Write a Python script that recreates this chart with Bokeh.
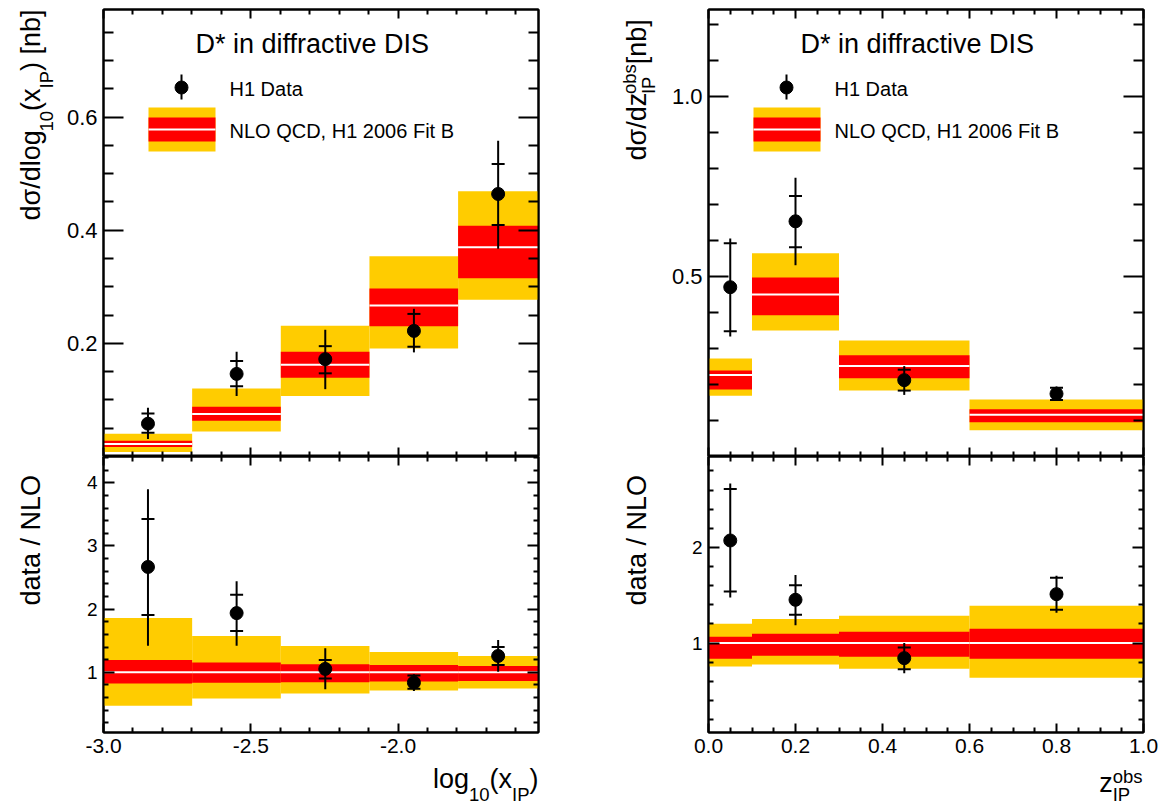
import math
from bokeh.plotting import figure
from bokeh.models import FixedTicker, LinearAxis, Label, Range1d
from bokeh.layouts import row, column
from bokeh.embed import file_html
from bokeh.resources import INLINE

# ---------------- data: left column, log10(x_IP) ----------------
xip_edges = [-3.0, -2.699, -2.398, -2.097, -1.796, -1.523]
xip_centres = [-2.849, -2.548, -2.247, -1.946, -1.660]
xip_data = [0.058, 0.146, 0.172, 0.222, 0.464]
xip_stat_lo = [0.042, 0.124, 0.147, 0.194, 0.409]
xip_stat_hi = [0.076, 0.169, 0.195, 0.252, 0.517]
xip_tot_lo = [0.031, 0.107, 0.119, 0.184, 0.367]
xip_tot_hi = [0.086, 0.185, 0.224, 0.261, 0.558]
xip_nlo = [0.022, 0.075, 0.162, 0.267, 0.370]
xip_nlo_red_lo = [0.017, 0.063, 0.139, 0.230, 0.315]
xip_nlo_red_hi = [0.028, 0.088, 0.185, 0.297, 0.408]
xip_nlo_yel_lo = [0.008, 0.044, 0.107, 0.191, 0.277]
xip_nlo_yel_hi = [0.040, 0.120, 0.231, 0.354, 0.469]

xip_ratio = [2.668, 1.937, 1.053, 0.837, 1.258]
xip_ratio_stat_lo = [1.905, 1.653, 0.900, 0.740, 1.116]
xip_ratio_stat_hi = [3.426, 2.226, 1.195, 0.950, 1.400]
xip_ratio_tot_lo = [1.420, 1.420, 0.730, 0.705, 1.010]
xip_ratio_tot_hi = [3.900, 2.442, 1.379, 0.968, 1.511]
xip_ratio_nlo = [1.0, 1.0, 1.0, 1.0, 1.0]
xip_ratio_red_lo = [0.821, 0.832, 0.842, 0.853, 0.863]
xip_ratio_red_hi = [1.195, 1.153, 1.126, 1.116, 1.100]
xip_ratio_yel_lo = [0.468, 0.584, 0.663, 0.711, 0.742]
xip_ratio_yel_hi = [1.858, 1.574, 1.416, 1.321, 1.258]

# ---------------- data: right column, z_IP^obs ----------------
z_edges = [0.0, 0.1, 0.3, 0.6, 1.0]
z_centres = [0.05, 0.2, 0.45, 0.8]
z_data = [0.470, 0.653, 0.212, 0.174]
z_stat_lo = [0.348, 0.581, 0.183, 0.157]
z_stat_hi = [0.592, 0.723, 0.241, 0.191]
z_tot_lo = [0.333, 0.531, 0.171, 0.154]
z_tot_hi = [0.605, 0.774, 0.251, 0.194]
z_nlo = [0.226, 0.450, 0.251, 0.116]
z_nlo_red_lo = [0.186, 0.392, 0.217, 0.095]
z_nlo_red_hi = [0.239, 0.497, 0.281, 0.131]
z_nlo_yel_lo = [0.169, 0.350, 0.183, 0.073]
z_nlo_yel_hi = [0.272, 0.564, 0.322, 0.158]

z_ratio = [2.073, 1.453, 0.843, 1.512]
z_ratio_stat_lo = [1.540, 1.296, 0.728, 1.348]
z_ratio_stat_hi = [2.610, 1.606, 0.955, 1.683]
z_ratio_tot_lo = [1.477, 1.188, 0.686, 1.317]
z_ratio_tot_hi = [2.670, 1.711, 1.000, 1.704]
z_ratio_nlo = [1.0, 1.0, 1.0, 1.0]
z_ratio_red_lo = [0.836, 0.868, 0.857, 0.836]
z_ratio_red_hi = [1.066, 1.098, 1.118, 1.150]
z_ratio_yel_lo = [0.756, 0.777, 0.732, 0.638]
z_ratio_yel_hi = [1.202, 1.251, 1.286, 1.390]

# ---------------- ticks ----------------
xip_ticks = [-3.0, -2.5, -2.0]
xip_tick_labels = ["-3.0", "-2.5", "-2.0"]
z_ticks = [0.0, 0.2, 0.4, 0.6, 0.8, 1.0]
z_tick_labels = ["0.0", "0.2", "0.4", "0.6", "0.8", "1.0"]
xs_top_ticks = [0.2, 0.4, 0.6]
xs_top_tick_labels = ["0.2", "0.4", "0.6"]
zs_top_ticks = [0.5, 1.0]
zs_top_tick_labels = ["0.5", "1.0"]
xip_ratio_ticks = [1.0, 2.0, 3.0, 4.0]
xip_ratio_tick_labels = ["1", "2", "3", "4"]
z_ratio_ticks = [1.0, 2.0]
z_ratio_tick_labels = ["1", "2"]

# ---------------- style / layout (page pixels) ----------------
FONT = "Liberation Sans"
YELLOW = "#FFCC00"
RED = "#FF0000"
FW = 435
A_W = 62            # left title strip
B_BL, B_BR = 41, 77  # left column borders
C_W = 49            # right title strip
D_BL, D_BR = 44, 19  # right column borders
TOP_BT, TOP_FH = 9, 447
BOT_FH, BOT_BB = 276, 32
TOTAL_H = 807
MID = 0.3465        # baseline-to-centre distance in em (Liberation Sans)

XR_L = (-3.0, -1.523)
XR_R = (0.0, 1.0)
YR_TL = (0.0, 0.79)
YR_TR = (0.0, 1.241)
YR_BL = (0.046, 4.417)
YR_BR = (0.0655, 2.951)

W = {' ': 278, '(': 333, ')': 333, '[': 278, ']': 278, '/': 278, '*': 389, ',': 278,
     'a': 556, 'b': 556, 'c': 500, 'd': 556, 'e': 556, 'f': 278, 'g': 556, 'i': 222,
     'l': 222, 'n': 556, 'o': 556, 's': 500, 't': 278, 'v': 500, 'x': 500, 'z': 500,
     'D': 722, 'I': 278, 'L': 556, 'N': 722, 'O': 778, 'P': 667, 'Q': 778, 'C': 722,
     'H': 722, 'F': 611, 'B': 667, 'S': 667, 'σ': 570}
for _d in "0123456789":
    W[_d] = 556


def tw(text, size):
    return sum(W.get(c, 556) for c in text) * size / 1000.0


def mrange(a, b, step, skip):
    out = []
    n = int(round((b - a) / step))
    for i in range(n + 1):
        v = round(a + i * step, 4)
        if all(abs(v - s) > 1e-6 for s in skip):
            out.append(v)
    return out


class Frame:
    def __init__(self, fx, fy, fw, fh, xr, yr):
        self.fx, self.fy, self.fw, self.fh, self.xr, self.yr = fx, fy, fw, fh, xr, yr

    def xd(self, px):
        return self.xr[0] + (px - self.fx) / self.fw * (self.xr[1] - self.xr[0])

    def yd(self, py):
        return self.yr[1] - (py - self.fy) / self.fh * (self.yr[1] - self.yr[0])


def make_fig(xr, yr, bl, br, bt, fh, bb):
    p = figure(width=bl + FW + br, height=bt + fh + bb, x_range=Range1d(*xr), y_range=Range1d(*yr),
               output_backend="svg", toolbar_location=None, tools="", title=None,
               min_border_left=bl, min_border_right=br, min_border_top=bt, min_border_bottom=bb)
    p.grid.visible = False
    p.outline_line_color = "black"
    p.outline_line_width = 2
    p.outline_line_alpha = 1.0
    p.background_fill_color = "white"
    p.border_fill_color = "white"
    p.add_layout(LinearAxis(), "above")
    p.add_layout(LinearAxis(), "right")
    return p


def text_canvas(x0, x1, y0, y1, bl=0, br=0):
    """A blank figure whose data coordinates equal page pixels, used for titles.
    bl/br: side borders (so that its frame lines up with the plots in its column)."""
    p = figure(width=x1 - x0, height=y1 - y0, x_range=Range1d(x0 + bl, x1 - br), y_range=Range1d(y1, y0),
               output_backend="svg", toolbar_location=None, tools="", title=None,
               x_axis_type=None, y_axis_type=None,
               min_border_left=bl, min_border_right=br, min_border_top=0, min_border_bottom=0)
    p.grid.visible = False
    p.outline_line_color = None
    p.background_fill_color = "white"
    p.border_fill_color = "white"
    return p


def style_axis(ax, ticks, minor, labels, major_len, minor_len, font_size=21):
    ax.ticker = FixedTicker(ticks=ticks, minor_ticks=minor)
    ax.major_tick_in = major_len
    ax.major_tick_out = 0
    ax.minor_tick_in = minor_len
    ax.minor_tick_out = 0
    ax.major_tick_line_width = 2
    ax.minor_tick_line_width = 2
    ax.major_tick_line_color = "black"
    ax.minor_tick_line_color = "black"
    ax.axis_line_width = 2
    ax.axis_line_color = "black"
    ax.axis_label = None
    if labels is None:
        ax.major_label_overrides = {t: "" for t in ticks}
        ax.major_label_text_font_size = "0px"
        ax.major_label_standoff = 0
    else:
        ax.major_label_overrides = {t: s for t, s in zip(ticks, labels)}
        ax.major_label_text_font = FONT
        ax.major_label_text_font_size = f"{font_size}px"
        ax.major_label_text_color = "black"
        ax.major_label_standoff = 6


def add_label(p, fr, px, py, text, size, angle=0.0):
    # (px, py) is the start of the text baseline in page pixels; the label is
    # anchored at the vertical middle of its line box, so move "up" by MID em.
    ux, uy = -math.sin(angle), -math.cos(angle)
    cx = px + ux * MID * size
    cy = py + uy * MID * size
    p.add_layout(Label(x=fr.xd(cx), y=fr.yd(cy), x_units="data", y_units="data", text=text,
                       text_font=FONT, text_font_size=f"{size}px", text_color="black",
                       text_align="left", text_baseline="middle", angle=angle))


def compose_h(p, fr, right_px, base_py, pieces):
    total = 0.0
    for piece in pieces:
        group = piece if isinstance(piece, list) else [piece]
        total += max(tw(t, s) for t, s, _ in group)
    x = right_px - total
    for piece in pieces:
        group = piece if isinstance(piece, list) else [piece]
        for t, s, sh in group:
            add_label(p, fr, x, base_py + sh, t, s)
        x += max(tw(t, s) for t, s, _ in group)


def compose_v(p, fr, base_px, start_py, pieces):
    y = start_py
    for piece in pieces:
        group = piece if isinstance(piece, list) else [piece]
        for t, s, sh in group:
            add_label(p, fr, base_px + sh, y, t, s, angle=math.pi / 2)
        y -= max(tw(t, s) for t, s, _ in group)


def draw_bands(p, edges, yel_lo, yel_hi, red_lo, red_hi, central):
    p.quad(left=edges[:-1], right=edges[1:], bottom=yel_lo, top=yel_hi,
           fill_color=YELLOW, line_color=None)
    p.quad(left=edges[:-1], right=edges[1:], bottom=red_lo, top=red_hi,
           fill_color=RED, line_color=None)
    p.segment(x0=edges[:-1], x1=edges[1:], y0=central, y1=central,
              line_color="white", line_width=2)


def draw_points(p, xs, ys, stat_lo, stat_hi, tot_lo, tot_hi):
    p.segment(x0=xs, x1=xs, y0=tot_lo, y1=tot_hi, line_color="black", line_width=2)
    p.scatter(x=xs + xs, y=stat_lo + stat_hi, marker="dash", size=13,
              line_color="black", line_width=2)
    p.scatter(x=xs, y=ys, size=13, fill_color="black", line_color="black")


def draw_legend(p, fr):
    fx = fr.fx
    add_label(p, fr, fx + 92, 53, "D* in diffractive DIS", 27)
    mx = fr.xd(fx + 78)
    p.segment(x0=[mx], x1=[mx], y0=[fr.yd(74)], y1=[fr.yd(99)], line_color="black", line_width=2)
    p.scatter(x=[mx], y=[fr.yd(87)], size=13, fill_color="black", line_color="black")
    add_label(p, fr, fx + 126, 95, "H1 Data", 20)
    l, r = fr.xd(fx + 45), fr.xd(fx + 112)
    p.quad(left=[l], right=[r], bottom=[fr.yd(151)], top=[fr.yd(107)], fill_color=YELLOW, line_color=None)
    p.quad(left=[l], right=[r], bottom=[fr.yd(141)], top=[fr.yd(117)], fill_color=RED, line_color=None)
    p.segment(x0=[l], x1=[r], y0=[fr.yd(129)], y1=[fr.yd(129)], line_color="white", line_width=2)
    add_label(p, fr, fx + 126, 137, "NLO QCD, H1 2006 Fit B", 20)


# page geometry
B_X0 = A_W
C_X0 = B_X0 + B_BL + FW + B_BR
D_X0 = C_X0 + C_W
D_X1 = D_X0 + D_BL + FW + D_BR
FX_L = B_X0 + B_BL
FX_R = D_X0 + D_BL
FY_T = TOP_BT
FY_B = TOP_BT + TOP_FH
BOT_END = FY_B + BOT_FH + BOT_BB

fr_tl = Frame(FX_L, FY_T, FW, TOP_FH, XR_L, YR_TL)
fr_bl = Frame(FX_L, FY_B, FW, BOT_FH, XR_L, YR_BL)
fr_tr = Frame(FX_R, FY_T, FW, TOP_FH, XR_R, YR_TR)
fr_br = Frame(FX_R, FY_B, FW, BOT_FH, XR_R, YR_BR)

xip_minor = mrange(-3.0, -1.6, 0.1, xip_ticks)
z_minor = mrange(0.0, 1.0, 0.05, z_ticks)

# ---- top left ----
tl = make_fig(XR_L, YR_TL, B_BL, B_BR, TOP_BT, TOP_FH, 0)
style_axis(tl.below[0], xip_ticks, xip_minor, None, 9, 5)
style_axis(tl.above[0], xip_ticks, xip_minor, None, 9, 5)
tl_minor = mrange(0.05, 0.75, 0.05, xs_top_ticks)
style_axis(tl.left[0], xs_top_ticks, tl_minor, xs_top_tick_labels, 20, 10, 22)
style_axis(tl.right[0], xs_top_ticks, tl_minor, None, 20, 10)
draw_bands(tl, xip_edges, xip_nlo_yel_lo, xip_nlo_yel_hi, xip_nlo_red_lo, xip_nlo_red_hi, xip_nlo)
draw_points(tl, xip_centres, xip_data, xip_stat_lo, xip_stat_hi, xip_tot_lo, xip_tot_hi)
draw_legend(tl, fr_tl)

# ---- bottom left ----
bl = make_fig(XR_L, YR_BL, B_BL, B_BR, 0, BOT_FH, BOT_BB)
style_axis(bl.below[0], xip_ticks, xip_minor, xip_tick_labels, 9, 5, 21)
style_axis(bl.above[0], xip_ticks, xip_minor, None, 9, 5)
bl_minor = mrange(0.2, 4.4, 0.2, xip_ratio_ticks)
style_axis(bl.left[0], xip_ratio_ticks, bl_minor, xip_ratio_tick_labels, 11, 5, 19)
style_axis(bl.right[0], xip_ratio_ticks, bl_minor, None, 11, 5)
draw_bands(bl, xip_edges, xip_ratio_yel_lo, xip_ratio_yel_hi, xip_ratio_red_lo, xip_ratio_red_hi, xip_ratio_nlo)
draw_points(bl, xip_centres, xip_ratio, xip_ratio_stat_lo, xip_ratio_stat_hi, xip_ratio_tot_lo, xip_ratio_tot_hi)

# ---- top right ----
tr = make_fig(XR_R, YR_TR, D_BL, D_BR, TOP_BT, TOP_FH, 0)
style_axis(tr.below[0], z_ticks, z_minor, None, 9, 5)
style_axis(tr.above[0], z_ticks, z_minor, None, 9, 5)
tr_minor = mrange(0.1, 1.2, 0.1, zs_top_ticks)
style_axis(tr.left[0], zs_top_ticks, tr_minor, zs_top_tick_labels, 20, 10, 22)
style_axis(tr.right[0], zs_top_ticks, tr_minor, None, 20, 10)
draw_bands(tr, z_edges, z_nlo_yel_lo, z_nlo_yel_hi, z_nlo_red_lo, z_nlo_red_hi, z_nlo)
draw_points(tr, z_centres, z_data, z_stat_lo, z_stat_hi, z_tot_lo, z_tot_hi)
draw_legend(tr, fr_tr)

# ---- bottom right ----
br = make_fig(XR_R, YR_BR, D_BL, D_BR, 0, BOT_FH, BOT_BB)
style_axis(br.below[0], z_ticks, z_minor, z_tick_labels, 9, 5, 21)
style_axis(br.above[0], z_ticks, z_minor, None, 9, 5)
br_minor = mrange(0.2, 2.8, 0.2, z_ratio_ticks)
style_axis(br.left[0], z_ratio_ticks, br_minor, z_ratio_tick_labels, 11, 5, 19)
style_axis(br.right[0], z_ratio_ticks, br_minor, None, 11, 5)
draw_bands(br, z_edges, z_ratio_yel_lo, z_ratio_yel_hi, z_ratio_red_lo, z_ratio_red_hi, z_ratio_nlo)
draw_points(br, z_centres, z_ratio, z_ratio_stat_lo, z_ratio_stat_hi, z_ratio_tot_lo, z_ratio_tot_hi)

# ---- title strips (data coordinates = page pixels) ----
ident = Frame(0, 0, 1, 1, (0, 1), (1, 0))
strip_a = text_canvas(0, B_X0, 0, TOTAL_H)
compose_v(strip_a, ident, 40, 220, [("dσ/dlog", 27, 0), ("10", 18.5, 12), ("(x", 27, 0),
                                     ("IP", 18.5, 12), (") [nb]", 27, 0)])
compose_v(strip_a, ident, 40, 605, [("data / NLO", 27, 0)])

strip_c = text_canvas(C_X0, D_X0, 0, TOTAL_H)
compose_v(strip_c, ident, 646, 160, [("dσ/dz", 27, 0), [("obs", 18.5, -11), ("IP", 18.5, 8.5)],
                                      (" [nb]", 27, 0)])
compose_v(strip_c, ident, 646, 605, [("data / NLO", 27, 0)])

strip_bl = text_canvas(B_X0, C_X0, BOT_END, TOTAL_H, B_BL, B_BR)
compose_h(strip_bl, ident, FX_L + FW, 788, [("log", 27, 0), ("10", 18.5, 12), ("(x", 27, 0),
                                            ("IP", 18.5, 12), (")", 27, 0)])
strip_br = text_canvas(D_X0, D_X1, BOT_END, TOTAL_H, D_BL, D_BR)
compose_h(strip_br, ident, FX_R + FW - 1, 792, [("z", 27, 0), [("obs", 18.5, -10), ("IP", 18.5, 8)]])

layout = row(strip_a, column(tl, bl, strip_bl), strip_c, column(tr, br, strip_br))
open("out.html", "w").write(file_html(layout, INLINE))
